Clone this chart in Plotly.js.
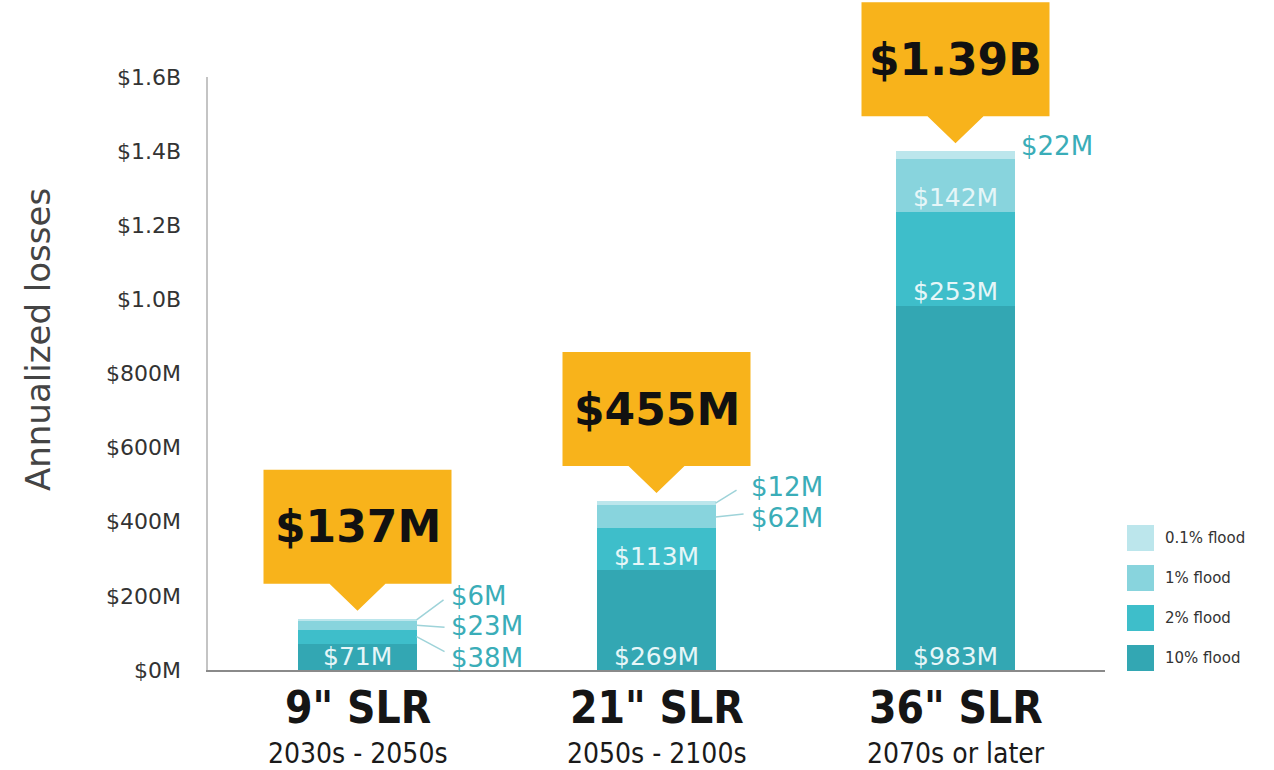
<!DOCTYPE html>
<html><head><meta charset="utf-8">
<script src="https://cdn.plot.ly/plotly-3.0.1.min.js"></script>
<style>html,body{margin:0;padding:0;background:#fff}#chart{width:1274px;height:770px}</style>
</head><body><div id="chart"></div>
<script>
// ---------- data ----------
const categories = ['9" SLR', '21" SLR', '36" SLR'];
const periods = ['2030s - 2050s', '2050s - 2100s', '2070s or later'];
const seriesNames = ['10% flood', '2% flood', '1% flood', '0.1% flood'];
const flood10 = [71, 269, 983];     // $M
const flood2 = [38, 113, 253];
const flood1 = [23, 62, 142];
const flood01 = [6, 12, 22];
const valueLabels10 = ['$71M', '$269M', '$983M'];
const valueLabels2 = ['$38M', '$113M', '$253M'];
const valueLabels1 = ['$23M', '$62M', '$142M'];
const valueLabels01 = ['$6M', '$12M', '$22M'];
const totalLabels = ['$137M', '$455M', '$1.39B'];
const yTickVals = [0, 200, 400, 600, 800, 1000, 1200, 1400, 1600];
const yTickText = ['$0M', '$200M', '$400M', '$600M', '$800M', '$1.0B', '$1.2B', '$1.4B', '$1.6B'];

// ---------- styling ----------
const colors = ['#33A7B3', '#3EBECA', '#88D4DD', '#BCE6EC'];
const yellow = '#F8B31B';
const outColor = '#3AADB8';
const inColor = '#E6F6F8';
const lineColor = '#9ED3D9';
const barWidth = 0.395;
const xRange = [-0.5, 2.5];
const yRange = [0, 1600];
const labelFont = 'DejaVu Sans, Lato, sans-serif';
const condFont = 'DejaVu Sans Condensed, DejaVu Sans, sans-serif';

const series = [flood10, flood2, flood1, flood01];
const seriesLabels = [valueLabels10, valueLabels2, valueLabels1, valueLabels01];
// placement per [series][category]: null = inside, else [lineDx, lineDy, textDx, textDy] in px
const placement = [
  [null, null, null],
  [[28, -15, 32, -21], null, null],
  [[28, -2, 32, -1], [28, 3, 33, -1], null],
  [[27, 20, 32, 24], [21, 13, 33, 16], [null, null, 4, 9]]
];

const x = [0, 1, 2];
const traces = series.map((vals, s) => ({
  type: 'bar', x: x, y: vals, name: seriesNames[s], width: barWidth,
  marker: {color: colors[s], line: {width: 0}}, showlegend: false, hoverinfo: 'skip'
}));

const toPaperX = v => (v - xRange[0]) / (xRange[1] - xRange[0]);
const toPaperY = v => (v - yRange[0]) / (yRange[1] - yRange[0]);

const shapes = [];
const annotations = [];

x.forEach((xi, c) => {
  let base = 0;
  series.forEach((vals, s) => {
    const v = vals[c];
    const p = placement[s][c];
    const mid = base + v / 2;
    if (p === null) {
      annotations.push({x: xi, y: base, xref: 'x', yref: 'y', text: seriesLabels[s][c],
        showarrow: false, yanchor: 'middle', xanchor: 'center', yshift: 14,
        font: {family: labelFont, size: 25, color: inColor}});
    } else {
      if (p[0] !== null) {
        shapes.push({type: 'line', xref: 'x', yref: 'y', xsizemode: 'pixel', ysizemode: 'pixel',
          xanchor: xi + barWidth / 2, yanchor: mid, x0: 0, y0: 0, x1: p[0], y1: p[1],
          line: {color: lineColor, width: 1.5}});
      }
      annotations.push({x: xi + barWidth / 2, y: mid, xref: 'x', yref: 'y', text: seriesLabels[s][c],
        showarrow: false, xanchor: 'left', yanchor: 'middle', xshift: p[2], yshift: p[3],
        font: {family: labelFont, size: 26, color: outColor}});
    }
    base += v;
  });
  // callout (paper-referenced so it is not clipped at the plot top)
  const total = base;
  shapes.push({type: 'path', xref: 'paper', yref: 'paper', xsizemode: 'pixel', ysizemode: 'pixel',
    xanchor: toPaperX(xi), yanchor: toPaperY(total),
    path: 'M-94,35L-28,35L0,8L28,35L94,35L94,149L-94,149Z',
    fillcolor: yellow, line: {width: 0}, layer: 'above'});
  annotations.push({x: xi, y: total, xref: 'x', yref: 'y', text: '<b>' + totalLabels[c] + '</b>',
    showarrow: false, yanchor: 'middle', xanchor: 'center', yshift: 92,
    font: {family: 'DejaVu Sans, sans-serif', size: 44, color: '#111'}});
  // category labels
  annotations.push({x: xi, y: 0, xref: 'x', yref: 'y', text: '<b>' + categories[c] + '</b>',
    showarrow: false, yanchor: 'middle', xanchor: 'center', yshift: -37,
    font: {family: condFont, size: 44, color: '#151515'}});
  annotations.push({x: xi, y: 0, xref: 'x', yref: 'y', text: periods[c],
    showarrow: false, yanchor: 'middle', xanchor: 'center', yshift: -83,
    font: {family: condFont, size: 28, color: '#1a1a1a'}});
});

// legend (manual, top to bottom: 0.1%, 1%, 2%, 10%)
seriesNames.forEach((nm, s) => {
  const cy = 12 + s * 40;
  shapes.push({type: 'rect', xref: 'paper', yref: 'paper', xsizemode: 'pixel', ysizemode: 'pixel',
    xanchor: 1, yanchor: 0, x0: 22, x1: 49, y0: cy - 13, y1: cy + 13,
    fillcolor: colors[s], line: {width: 0}});
  annotations.push({xref: 'paper', yref: 'paper', x: 1, y: 0, xshift: 58, yshift: cy,
    xanchor: 'left', yanchor: 'middle', showarrow: false, text: nm,
    font: {family: labelFont, size: 15, color: '#333'}});
});

// y axis title
annotations.push({xref: 'paper', yref: 'paper', x: 0, y: 0.5565, xshift: -170, textangle: -90,
  xanchor: 'center', yanchor: 'middle', showarrow: false, text: 'Annualized losses',
  font: {family: labelFont, size: 34, color: '#444'}});

const layout = {
  width: 1274, height: 770,
  margin: {l: 208, r: 169, t: 77, b: 100},
  paper_bgcolor: '#fff', plot_bgcolor: '#fff',
  barmode: 'stack', bargap: 0,
  showlegend: false,
  xaxis: {range: xRange, showticklabels: false, ticks: '', showgrid: false, zeroline: false,
    showline: true, linecolor: '#8a8a8a', linewidth: 1.5, fixedrange: true},
  yaxis: {range: yRange, tickvals: yTickVals, ticktext: yTickText, showgrid: false, zeroline: false,
    showline: true, linecolor: '#c4c4c4', linewidth: 2.5, ticks: '', ticklabelstandoff: 20,
    tickfont: {family: labelFont, size: 22, color: '#333'}, fixedrange: true},
  shapes: shapes,
  annotations: annotations,
  hovermode: false
};

Plotly.newPlot('chart', traces, layout, {staticPlot: true, displayModeBar: false});
</script>
</body></html>
